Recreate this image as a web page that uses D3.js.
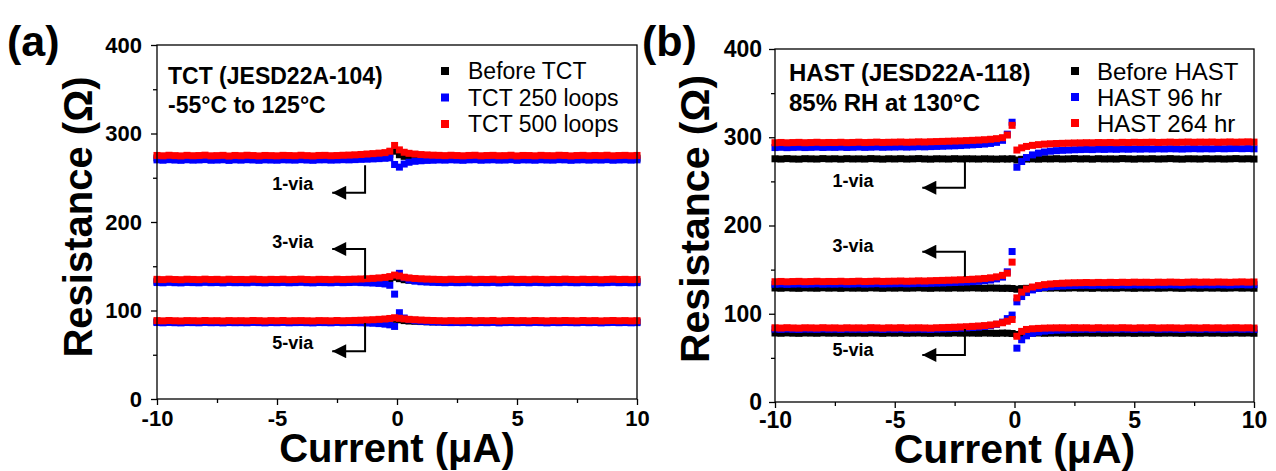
<!DOCTYPE html>
<html>
<head>
<meta charset="utf-8">
<script src="https://cdn.jsdelivr.net/npm/d3@7"></script>
<style>
  html, body { margin: 0; padding: 0; background: #fff; }
  svg { display: block; }
  text { font-family: Arial, "Liberation Sans", sans-serif; fill: #000; }
</style>
</head>
<body>
<svg id="chart" width="1276" height="471"></svg>
<script>
// Current sweep (µA), shared by every I–R curve
const currents = [
  -10,-9.75,-9.5,-9.25,-9,-8.75,-8.5,-8.25,-8,-7.75,
  -7.5,-7.25,-7,-6.75,-6.5,-6.25,-6,-5.75,-5.5,-5.25,
  -5,-4.75,-4.5,-4.25,-4,-3.75,-3.5,-3.25,-3,-2.75,
  -2.5,-2.25,-2,-1.75,-1.5,-1.25,-1,-0.75,-0.5,
  -0.3,-0.1,0.1,0.3,
  0.5,0.75,1,1.25,1.5,1.75,2,2.25,2.5,2.75,
  3,3.25,3.5,3.75,4,4.25,4.5,4.75,5,5.25,
  5.5,5.75,6,6.25,6.5,6.75,7,7.25,7.5,7.75,
  8,8.25,8.5,8.75,9,9.25,9.5,9.75,10
];

const tctSeriesNames = ["Before TCT", "TCT 250 loops", "TCT 500 loops"];
const hastSeriesNames = ["Before HAST", "HAST 96 hr", "HAST 264 hr"];
const viaLabels = ["1-via", "3-via", "5-via"];
const xMajorTicks = [-10, -5, 0, 5, 10];
const xMinorTicks = [-7.5, -2.5, 2.5, 7.5];
const yMajorTicks = [0, 100, 200, 300, 400];
const yMinorTicks = [50, 150, 250, 350];

// ---- (a) thermal cycling test, resistance (Ω) ----
const tctBefore1via = [
  272.4,272.1,272.6,272.3,272.0,272.5,272.2,272.4,272.1,272.6,
  272.3,272.0,272.4,272.2,272.5,272.1,272.3,272.6,272.2,272.4,
  272.0,272.3,272.5,272.1,272.4,272.2,272.6,272.3,272.1,272.5,
  272.2,272.4,272.7,272.9,273.2,273.5,273.9,274.4,275.0,
  276.5,280.0,276.0,274.2,
  273.5,273.1,272.8,272.6,272.4,272.5,272.2,272.4,272.1,272.3,
  272.5,272.2,272.4,272.0,272.3,272.6,272.2,272.4,272.1,272.5,
  272.3,272.0,272.4,272.2,272.5,272.1,272.3,272.6,272.2,272.4,
  272.0,272.3,272.5,272.1,272.4,272.2,272.6,272.3,272.1
];
const tct250Loops1via = [
  270.2,269.8,270.4,270.0,269.7,270.3,269.9,270.1,270.5,269.8,
  270.0,270.3,269.6,270.2,269.9,270.4,270.1,269.7,270.2,270.0,
  269.8,270.3,270.1,269.9,270.4,270.0,269.7,270.2,270.3,269.9,
  270.1,270.4,270.2,270.5,270.8,271.0,271.3,271.6,272.0,
  272.5,265.0,262.0,265.5,
  267.5,268.6,269.2,269.6,269.8,270.1,269.9,270.3,270.0,269.7,
  270.2,270.4,269.8,270.1,270.3,269.9,270.0,270.4,269.7,270.2,
  270.1,269.8,270.3,270.0,269.9,270.4,270.2,269.7,270.1,270.3,
  269.9,270.2,270.0,270.4,269.8,270.1,270.3,269.9,270.2
];
const tct500Loops1via = [
  275.2,274.8,275.4,275.0,274.7,275.3,274.9,275.1,275.5,274.8,
  275.0,275.3,274.6,275.2,274.9,275.4,275.1,274.7,275.2,275.0,
  274.8,275.3,275.1,274.9,275.4,275.0,274.7,275.2,275.3,274.9,
  275.1,275.4,275.6,275.9,276.3,276.8,277.3,277.8,278.4,
  280.0,286.5,281.5,278.8,
  277.6,276.8,276.2,275.8,275.5,275.3,275.0,275.4,275.1,274.8,
  275.2,275.4,274.8,275.1,275.3,274.9,275.0,275.4,274.7,275.2,
  275.1,274.8,275.3,275.0,274.9,275.4,275.2,274.7,275.1,275.3,
  274.9,275.2,275.0,275.4,274.8,275.1,275.3,274.9,275.2
];
const tctBefore3via = [
  133.2,132.9,133.4,133.0,132.8,133.3,133.1,132.9,133.4,133.0,
  133.2,132.8,133.3,133.0,133.1,132.9,133.4,133.1,132.8,133.2,
  133.0,133.3,132.9,133.1,133.4,133.0,132.8,133.2,133.1,132.9,
  133.3,133.0,133.2,133.4,133.6,133.8,134.1,134.5,135.0,
  136.0,137.5,136.0,134.8,
  134.2,133.8,133.5,133.3,133.1,133.2,132.9,133.3,133.0,133.1,
  133.4,132.9,133.2,133.0,133.3,132.8,133.1,133.4,133.0,133.2,
  132.9,133.3,133.1,132.8,133.2,133.0,133.4,133.1,132.9,133.3,
  133.0,133.2,132.8,133.1,133.4,133.0,133.2,132.9,133.1
];
const tct250Loops3via = [
  131.6,131.3,131.8,131.4,131.2,131.7,131.5,131.3,131.8,131.4,
  131.6,131.2,131.7,131.4,131.5,131.3,131.8,131.5,131.2,131.6,
  131.4,131.7,131.3,131.5,131.8,131.4,131.2,131.6,131.5,131.3,
  131.7,131.4,131.6,131.8,131.5,131.3,131.0,130.6,130.0,
  128.5,118.5,142.0,137.0,
  134.5,133.2,132.5,132.1,131.8,131.6,131.3,131.7,131.4,131.5,
  131.8,131.3,131.6,131.4,131.7,131.2,131.5,131.8,131.4,131.6,
  131.3,131.7,131.5,131.2,131.6,131.4,131.8,131.5,131.3,131.7,
  131.4,131.6,131.2,131.5,131.8,131.4,131.6,131.3,131.5
];
const tct500Loops3via = [
  135.2,134.9,135.4,135.0,134.8,135.3,135.1,134.9,135.4,135.0,
  135.2,134.8,135.3,135.0,135.1,134.9,135.4,135.1,134.8,135.2,
  135.0,135.3,134.9,135.1,135.4,135.0,134.8,135.2,135.1,134.9,
  135.3,135.0,135.2,135.4,135.6,135.9,136.3,136.8,137.4,
  138.3,140.0,139.0,137.6,
  136.8,136.2,135.8,135.5,135.3,135.1,134.9,135.3,135.0,135.2,
  135.4,134.9,135.2,135.0,135.3,134.8,135.1,135.4,135.0,135.2,
  134.9,135.3,135.1,134.8,135.2,135.0,135.4,135.1,134.9,135.3,
  135.0,135.2,134.8,135.1,135.4,135.0,135.2,134.9,135.1
];
const tctBefore5via = [
  87.2,86.9,87.3,87.0,86.8,87.2,87.1,86.9,87.3,87.0,
  87.1,86.8,87.2,87.0,87.1,86.9,87.3,87.1,86.8,87.2,
  87.0,87.3,86.9,87.1,87.2,87.0,86.8,87.2,87.1,86.9,
  87.3,87.0,87.2,87.3,87.5,87.7,87.9,88.2,88.5,
  89.0,90.0,89.5,88.6,
  88.1,87.8,87.5,87.3,87.1,87.2,86.9,87.3,87.0,87.1,
  87.3,86.9,87.2,87.0,87.3,86.8,87.1,87.3,87.0,87.2,
  86.9,87.3,87.1,86.8,87.2,87.0,87.3,87.1,86.9,87.3,
  87.0,87.2,86.8,87.1,87.3,87.0,87.2,86.9,87.1
];
const tct250Loops5via = [
  86.4,86.1,86.5,86.2,86.0,86.4,86.3,86.1,86.5,86.2,
  86.3,86.0,86.4,86.2,86.3,86.1,86.5,86.3,86.0,86.4,
  86.2,86.5,86.1,86.3,86.4,86.2,86.0,86.4,86.3,86.1,
  86.5,86.2,86.4,86.3,86.1,85.9,85.6,85.2,84.6,
  83.8,82.0,97.5,91.5,
  89.6,88.5,87.8,87.3,87.0,86.8,86.5,86.3,86.4,86.2,
  86.5,86.1,86.4,86.2,86.5,86.0,86.3,86.5,86.2,86.4,
  86.1,86.5,86.3,86.0,86.4,86.2,86.5,86.3,86.1,86.5,
  86.2,86.4,86.0,86.3,86.5,86.2,86.4,86.1,86.3
];
const tct500Loops5via = [
  88.6,88.3,88.7,88.4,88.2,88.6,88.5,88.3,88.7,88.4,
  88.5,88.2,88.6,88.4,88.5,88.3,88.7,88.5,88.2,88.6,
  88.4,88.7,88.3,88.5,88.6,88.4,88.2,88.6,88.5,88.3,
  88.7,88.4,88.6,88.8,89.0,89.3,89.6,90.0,90.4,
  91.0,91.8,91.2,90.5,
  90.0,89.6,89.2,88.9,88.7,88.5,88.3,88.6,88.4,88.5,
  88.7,88.3,88.6,88.4,88.7,88.2,88.5,88.7,88.4,88.6,
  88.3,88.7,88.5,88.2,88.6,88.4,88.7,88.5,88.3,88.7,
  88.4,88.6,88.2,88.5,88.7,88.4,88.6,88.3,88.5
];

// ---- (b) highly accelerated stress test, resistance (Ω) ----
const hastBefore1via = [
  275.6,275.3,275.8,275.4,275.2,275.7,275.5,275.3,275.8,275.4,
  275.6,275.2,275.7,275.4,275.5,275.3,275.8,275.5,275.2,275.6,
  275.4,275.7,275.3,275.5,275.8,275.4,275.2,275.6,275.5,275.3,
  275.7,275.4,275.6,275.5,275.3,275.6,275.4,275.2,275.5,
  275.3,275.6,274.2,275.0,
  275.3,275.5,275.2,275.6,275.4,275.7,275.3,275.5,275.8,275.4,
  275.6,275.2,275.7,275.4,275.5,275.3,275.8,275.5,275.2,275.6,
  275.4,275.7,275.3,275.5,275.8,275.4,275.2,275.6,275.5,275.3,
  275.7,275.4,275.6,275.3,275.5,275.8,275.4,275.6,275.3
];
const hast96Hr1via = [
  288.3,288.6,288.2,288.5,288.7,288.3,288.5,288.8,288.4,288.6,
  288.5,288.8,288.4,288.6,288.9,288.5,288.7,289.0,288.6,288.8,
  288.9,289.1,288.8,289.0,289.3,289.1,289.4,289.6,289.8,290.1,
  290.3,290.6,291.0,291.4,291.8,292.3,293.0,294.2,296.5,
  303.5,317.0,266.0,272.5,
  277.0,280.0,282.0,283.3,284.2,284.8,285.2,285.5,285.8,286.0,
  286.2,286.0,286.4,286.2,286.5,286.3,286.6,286.4,286.7,286.5,
  286.8,286.6,286.9,286.7,287.0,286.8,286.6,286.9,287.1,286.8,
  287.0,286.8,287.2,286.9,287.1,287.3,287.0,287.2,286.9
];
const hast264Hr1via = [
  293.8,294.1,293.7,294.0,294.2,293.8,294.0,294.3,293.9,294.1,
  294.0,294.3,293.9,294.1,294.4,294.0,294.2,294.5,294.1,294.3,
  294.4,294.6,294.3,294.5,294.8,294.6,294.9,295.1,295.3,295.5,
  295.7,295.9,296.2,296.5,296.8,297.2,297.7,298.4,299.5,
  302.5,313.5,285.5,288.0,
  289.6,290.8,291.6,292.2,292.6,292.9,293.1,293.3,293.5,293.6,
  293.8,293.7,294.0,293.9,294.1,293.8,294.2,294.0,294.3,294.1,
  294.2,294.4,294.1,294.3,294.5,294.2,294.4,294.6,294.3,294.5,
  294.4,294.6,294.3,294.5,294.7,294.4,294.6,294.8,294.5
];
const hastBefore3via = [
  129.2,128.9,129.4,129.0,128.8,129.3,129.1,128.9,129.4,129.0,
  129.2,128.8,129.3,129.0,129.1,128.9,129.4,129.1,128.8,129.2,
  129.0,129.3,128.9,129.1,129.4,129.0,128.8,129.2,129.1,128.9,
  129.3,129.0,129.2,129.4,129.1,128.9,129.2,129.0,128.8,
  128.9,128.6,127.8,128.5,
  128.8,129.1,128.9,129.2,129.0,129.3,128.9,129.1,129.4,129.0,
  129.2,128.8,129.3,129.0,129.1,128.9,129.4,129.1,128.8,129.2,
  129.0,129.3,128.9,129.1,129.4,129.0,128.8,129.2,129.1,128.9,
  129.3,129.0,129.2,128.9,129.1,129.4,129.0,129.2,128.9
];
const hast96Hr3via = [
  133.4,133.7,133.3,133.6,133.8,133.4,133.6,133.9,133.5,133.7,
  133.6,133.9,133.5,133.7,134.0,133.6,133.8,134.1,133.7,133.9,
  134.0,134.2,133.9,134.1,134.4,134.2,134.5,134.7,134.9,135.2,
  135.4,135.7,136.0,136.4,136.8,137.4,138.2,139.5,141.5,
  147.5,170.5,113.5,119.5,
  124.0,127.0,128.8,129.9,130.6,131.1,131.5,131.8,132.0,132.2,
  132.3,132.1,132.4,132.2,132.5,132.3,132.6,132.4,132.7,132.5,
  132.6,132.4,132.7,132.5,132.8,132.6,132.4,132.7,132.9,132.6,
  132.8,132.6,132.9,132.7,132.5,132.8,133.0,132.7,132.9
];
const hast264Hr3via = [
  136.3,136.6,136.2,136.5,136.7,136.3,136.5,136.8,136.4,136.6,
  136.5,136.8,136.4,136.6,136.9,136.5,136.7,137.0,136.6,136.8,
  136.9,137.1,136.8,137.0,137.3,137.1,137.4,137.6,137.8,138.0,
  138.2,138.5,138.8,139.1,139.5,140.0,140.7,141.8,143.5,
  146.0,158.5,118.0,124.5,
  128.0,130.3,131.9,133.0,133.7,134.2,134.6,134.9,135.1,135.2,
  135.4,135.2,135.5,135.3,135.6,135.4,135.7,135.5,135.8,135.6,
  135.7,135.5,135.8,135.6,135.9,135.7,135.5,135.8,136.0,135.7,
  135.9,135.7,136.0,135.8,135.6,135.9,136.1,135.8,136.0
];
const hastBefore5via = [
  78.2,77.9,78.3,78.0,77.8,78.2,78.1,77.9,78.3,78.0,
  78.1,77.8,78.2,78.0,78.1,77.9,78.3,78.1,77.8,78.2,
  78.0,78.3,77.9,78.1,78.2,78.0,77.8,78.2,78.1,77.9,
  78.3,78.0,78.2,78.1,77.9,78.2,78.0,77.8,78.1,
  78.0,77.6,76.5,77.4,
  77.8,78.0,78.2,77.9,78.1,78.3,78.0,78.2,77.9,78.1,
  78.3,78.0,78.2,77.9,78.1,78.3,78.0,78.2,77.8,78.1,
  78.0,78.3,77.9,78.1,78.2,78.0,77.8,78.2,78.1,77.9,
  78.3,78.0,78.2,77.9,78.1,78.3,78.0,78.2,77.9
];
const hast96Hr5via = [
  82.6,82.3,82.7,82.4,82.2,82.6,82.5,82.3,82.7,82.4,
  82.5,82.2,82.6,82.4,82.5,82.3,82.7,82.5,82.2,82.6,
  82.4,82.7,82.3,82.5,82.6,82.4,82.2,82.6,82.8,83.0,
  83.3,83.6,84.0,84.4,84.9,85.6,86.5,88.0,90.5,
  94.5,98.5,61.0,70.5,
  75.0,77.8,79.3,80.3,80.9,81.4,81.7,82.0,82.2,82.3,
  82.5,82.2,82.6,82.4,82.5,82.3,82.7,82.5,82.2,82.6,
  82.4,82.7,82.3,82.5,82.6,82.4,82.2,82.6,82.5,82.3,
  82.7,82.4,82.6,82.3,82.5,82.7,82.4,82.6,82.3
];
const hast264Hr5via = [
  84.1,83.8,84.2,83.9,83.7,84.1,84.0,83.8,84.2,83.9,
  84.0,83.7,84.1,83.9,84.0,83.8,84.2,84.0,83.7,84.1,
  83.9,84.2,83.8,84.0,84.1,83.9,83.7,84.1,84.3,84.5,
  84.7,85.0,85.3,85.7,86.1,86.6,87.3,88.3,89.8,
  91.5,93.5,74.5,80.0,
  82.2,83.0,83.4,83.7,83.9,84.0,84.1,83.9,84.2,84.0,
  84.1,83.8,84.2,83.9,84.0,83.8,84.2,84.0,83.7,84.1,
  83.9,84.2,83.8,84.0,84.1,83.9,83.7,84.1,84.0,83.8,
  84.2,83.9,84.1,83.8,84.0,84.2,83.9,84.1,83.8
];

// Arrow callouts pointing at each via group: stem x, stem start/end, arrow tip x, label anchor (data units)
const tctCallouts = [
  { stemX: -1.33, from: 264, to: 233, tipX: -2.7, labelX: -5.2, labelY: 236.5 },
  { stemX: -1.33, from: 136, to: 169.5, tipX: -2.7, labelX: -5.2, labelY: 171 },
  { stemX: -1.33, from: 86, to: 54, tipX: -2.7, labelX: -5.2, labelY: 56 }
];
const hastCallouts = [
  { stemX: -2.07, from: 273, to: 242.8, tipX: -3.85, labelX: -7.6, labelY: 244 },
  { stemX: -2.07, from: 142, to: 170.3, tipX: -3.85, labelX: -7.6, labelY: 169.5 },
  { stemX: -2.07, from: 82.7, to: 53.3, tipX: -3.85, labelX: -7.6, labelY: 51.6 }
];

const seriesColors = ["#000000", "#0000ff", "#ff0000"];

const panels = [
  {
    tag: "(a)", tagX: 7, tagY: 56,
    box: { left: 157, right: 637, top: 45, bottom: 399 },
    names: tctSeriesNames,
    series: [
      [tctBefore1via, tctBefore3via, tctBefore5via],
      [tct250Loops1via, tct250Loops3via, tct250Loops5via],
      [tct500Loops1via, tct500Loops3via, tct500Loops5via]
    ],
    tickSize: 22, xPad: 5, yPad: 9,
    note: ["TCT (JESD22A-104)", "-55°C to 125°C"], noteX: 168, noteY: [84, 113], noteSize: 23,
    legendX: 445, legendTextX: 468, legendY: [71, 97.5, 124], legendSize: 23,
    titleSize: 40, yTitleX: 92, yTitleY: 217, xTitleY: 462,
    callouts: tctCallouts
  },
  {
    tag: "(b)", tagX: 642, tagY: 56,
    box: { left: 775, right: 1254, top: 49, bottom: 402 },
    names: hastSeriesNames,
    series: [
      [hastBefore1via, hastBefore3via, hastBefore5via],
      [hast96Hr1via, hast96Hr3via, hast96Hr5via],
      [hast264Hr1via, hast264Hr3via, hast264Hr5via]
    ],
    tickSize: 23, xPad: 4, yPad: 7,
    note: ["HAST (JESD22A-118)", "85% RH at 130°C"], noteX: 789, noteY: [81, 111], noteSize: 24,
    legendX: 1075, legendTextX: 1097, legendY: [71, 97, 123], legendSize: 24,
    titleSize: 41, yTitleX: 709, yTitleY: 219, xTitleY: 463,
    callouts: hastCallouts
  }
];

const svg = d3.select("#chart");

svg.append("defs").append("marker")
  .attr("id", "arrowHead")
  .attr("viewBox", "0 0 10 10")
  .attr("refX", 10).attr("refY", 5)
  .attr("markerWidth", 16).attr("markerHeight", 14)
  .attr("markerUnits", "userSpaceOnUse")
  .attr("orient", "auto")
  .append("path").attr("d", "M0,0 L10,5 L0,10 Z").attr("fill", "#000");

const tickFormat = d => String(d);

panels.forEach(p => {
  const b = p.box;
  const x = d3.scaleLinear().domain([-10, 10]).range([b.left, b.right]);
  const y = d3.scaleLinear().domain([0, 400]).range([b.bottom, b.top]);
  const g = svg.append("g");

  // data markers: black first, red last (on top)
  const markSize = 7;
  p.series.forEach((group, si) => {
    group.forEach(vals => {
      const pts = currents.map((c, i) => [c, vals[i]]).filter(d => d[1] != null);
      g.append("g").selectAll("rect").data(pts).join("rect")
        .attr("x", d => x(d[0]) - markSize / 2)
        .attr("y", d => y(d[1]) - markSize / 2)
        .attr("width", markSize).attr("height", markSize)
        .attr("fill", seriesColors[si]);
    });
  });

  // frame
  g.append("rect")
    .attr("x", b.left).attr("y", b.top)
    .attr("width", b.right - b.left).attr("height", b.bottom - b.top)
    .attr("fill", "none").attr("stroke", "#000").attr("stroke-width", 1.3);

  // axes with major and minor ticks
  const xAxis = g.append("g").attr("transform", `translate(0,${b.bottom})`)
    .call(d3.axisBottom(x).tickValues(xMajorTicks).tickFormat(tickFormat)
      .tickSize(6).tickSizeOuter(0).tickPadding(p.xPad));
  g.append("g").attr("transform", `translate(0,${b.bottom})`)
    .call(d3.axisBottom(x).tickValues(xMinorTicks).tickSize(4).tickSizeOuter(0).tickFormat(""));
  const yAxis = g.append("g").attr("transform", `translate(${b.left},0)`)
    .call(d3.axisLeft(y).tickValues(yMajorTicks).tickFormat(tickFormat)
      .tickSize(6).tickSizeOuter(0).tickPadding(p.yPad));
  g.append("g").attr("transform", `translate(${b.left},0)`)
    .call(d3.axisLeft(y).tickValues(yMinorTicks).tickSize(4).tickSizeOuter(0).tickFormat(""));
  g.selectAll(".domain").remove();
  g.selectAll(".tick line").attr("stroke", "#000").attr("stroke-width", 1.3);
  [xAxis, yAxis].forEach(a => a.selectAll("text")
    .style("font-family", "Arial, 'Liberation Sans', sans-serif")
    .style("font-size", p.tickSize + "px").style("font-weight", "bold").attr("fill", "#000"));

  // axis titles
  g.append("text")
    .attr("transform", `translate(${p.yTitleX},${p.yTitleY}) rotate(-90)`)
    .attr("text-anchor", "middle")
    .style("font-size", p.titleSize + "px").style("font-weight", "bold")
    .text("Resistance (Ω)");
  g.append("text")
    .attr("x", (b.left + b.right) / 2).attr("y", p.xTitleY)
    .attr("text-anchor", "middle")
    .style("font-size", p.titleSize + "px").style("font-weight", "bold")
    .text("Current (μA)");

  // panel tag
  svg.append("text").attr("x", p.tagX).attr("y", p.tagY)
    .style("font-size", "43px").style("font-weight", "bold").text(p.tag);

  // test condition note
  p.note.forEach((t, i) => g.append("text")
    .attr("x", p.noteX).attr("y", p.noteY[i])
    .style("font-size", p.noteSize + "px").style("font-weight", "bold").text(t));

  // legend
  p.names.forEach((n, i) => {
    g.append("rect")
      .attr("x", p.legendX - 4).attr("y", p.legendY[i] - 4)
      .attr("width", 8).attr("height", 8).attr("fill", seriesColors[i]);
    g.append("text")
      .attr("x", p.legendTextX).attr("y", p.legendY[i])
      .attr("dy", "0.36em")
      .style("font-size", p.legendSize + "px").text(n);
  });

  // via callouts
  p.callouts.forEach((c, i) => {
    g.append("path")
      .attr("d", `M${x(c.stemX)},${y(c.from)} L${x(c.stemX)},${y(c.to)} L${x(c.tipX)},${y(c.to)}`)
      .attr("fill", "none").attr("stroke", "#000").attr("stroke-width", 2)
      .attr("marker-end", "url(#arrowHead)");
    g.append("text")
      .attr("x", x(c.labelX)).attr("y", y(c.labelY))
      .style("font-size", "18px").style("font-weight", "bold")
      .text(viaLabels[i]);
  });
});
</script>
</body>
</html>
